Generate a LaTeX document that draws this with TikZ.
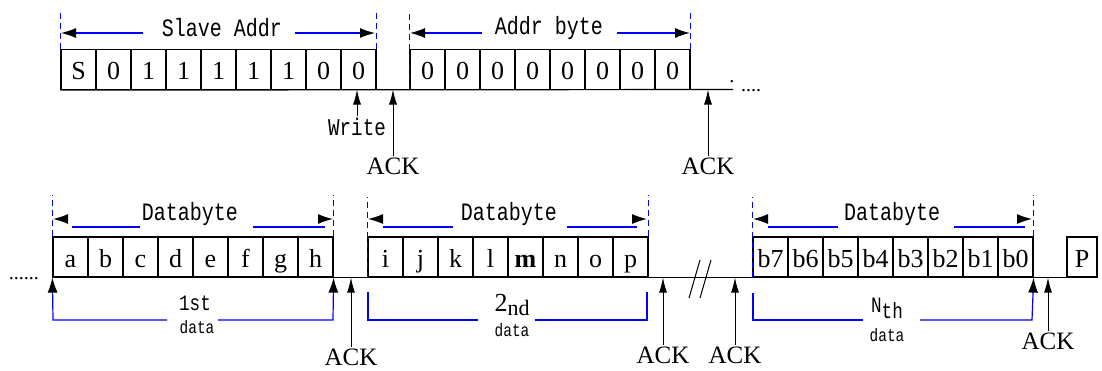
\documentclass[tikz,border=0pt]{standalone}
\usepackage{fontspec}
\setmainfont{Liberation Serif}
\newfontfamily\narrowmono[FakeStretch=0.8]{Liberation Mono}
\usetikzlibrary{arrows.meta, positioning, calc}
\tikzset{
  bitbox/.style={
    draw, line width=0.6pt, minimum width=17.5pt, minimum height=20pt,
    inner sep=0pt, text height=10pt, text depth=0pt,
    font=\fontsize{13}{13}\selectfont
  },
  sigline/.style={line width=0.6pt},
  guideline/.style={blue, dashed, dash pattern=on 3pt off 2pt, line width=0.5pt},
  spanline/.style={blue, line width=0.6pt},
  spantip/.style={-{Latex[length=7.5pt, width=5pt]}, line width=0.6pt},
  spanlabel/.style={font=\fontsize{12.5}{14}\selectfont\narrowmono, inner sep=1pt},
  smalllabel/.style={font=\fontsize{9}{10}\selectfont\narrowmono, inner sep=1pt},
  acklabel/.style={font=\fontsize{12.5}{14}\selectfont, inner sep=0.5pt},
  ackarrow/.style={-{Latex[length=7.5pt, width=4pt]}, line width=0.5pt},
}

\begin{document}
\begin{tikzpicture}[x=0.5pt, y=-0.5pt]
  \useasboundingbox (0,0) rectangle (1102,370);

  % Top row: slave address and address byte
  \foreach \b [count=\i from 0] in {S,0,1,1,1,1,1,0,0}
    \node[bitbox] (sa\i) at ({78.5+35*\i},69.5) {\b};
  \foreach \i in {0,...,7}
    \node[bitbox] (ab\i) at ({427.5+35*\i},69.5) {0};
  \draw[sigline] (sa0.south west) -- (733,89.5) coordinate (topend);
  \node[anchor=base west, inner sep=0pt, font=\fontsize{10}{10}\selectfont]
    (topdots) at (729,91) {\raisebox{0.9ex}{.}\,\,....};

  % Guides above the top row
  \draw[guideline] (sa0.north west) -- ++(0,-40);
  \draw[guideline] (sa8.north east) -- ++(0,-40);
  \draw[guideline] (ab0.south west) -- ++(0,-80);
  \draw[guideline] (ab7.north east) -- ++(0,-40);

  \node[spanlabel] (slavelbl) at (222,28) {Slave Addr};
  \draw[spanline, {Latex[length=7.5pt, width=5pt, color=black]}-] (61,33) -- (143,33);
  \draw[spanline, -{Latex[length=7.5pt, width=5pt, color=black]}] (295,33) -- (375,33);
  \node[spanlabel] (addrlbl) at (549,28) {Addr byte};
  \draw[spanline, {Latex[length=7.5pt, width=5pt, color=black]}-] (410,33) -- (482,33);
  \draw[spanline, -{Latex[length=7.5pt, width=5pt, color=black]}] (617,33) -- (690,33);

  % Write bit and acknowledges
  \node[spanlabel, font=\fontsize{12}{14}\selectfont\narrowmono] (write) at (357,127) {Write};
  \draw[ackarrow] (write.north) -- (write.north |- topend);
  \node[acklabel] (ack1) at (393,166) {ACK};
  \draw[ackarrow] (ack1.north) -- (ack1.north |- topend);
  \node[acklabel] (ack2) at (708,166) {ACK};
  \draw[ackarrow] (ack2.north) -- (ack2.north |- topend);

  % Bottom row: three data bytes and stop
  \foreach \b [count=\i from 0] in {a,b,c,d,e,f,g,h}
    \node[bitbox] (da\i) at ({70.5+35*\i},257) {\b};
  \foreach \b [count=\i from 0] in {i,j,k,l,\textbf{m},n,o,p}
    \node[bitbox] (db\i) at ({385.5+35*\i},257) {\b};
  \foreach \b [count=\i from 0] in {b7,b6,b5,b4,b3,b2,b1,b0}
    \node[bitbox] (dc\i) at ({770.5+35*\i},257) {\b};
  \node[bitbox, minimum width=15pt] (stop) at (1082,257) {P};
  \draw[sigline] (da0.south west) -- (stop.south west);
  \node[anchor=base, inner sep=0pt, font=\fontsize{10}{10}\selectfont]
    (leftdots) at (24,279) {......};
  \draw[line width=0.5pt] (689,298) -- (700,260);
  \draw[line width=0.5pt] (700,298) -- (711,260);

  % Guides above the bottom row
  \draw[guideline] (da0.north west) -- ++(0,-41);
  \draw[guideline] (da7.north east) -- ++(0,-41);
  \draw[guideline] (db0.south west) -- ++(0,-81);
  \draw[guideline] (db7.north east) -- ++(0,-41);
  \draw[guideline] (dc0.south west) -- ++(0,-81);
  \draw[guideline] (dc7.north east) -- ++(0,-41);

  % Databyte spans
  \node[spanlabel] (byte1) at (190,214) {Databyte};
  \draw[spantip] (68,219) -- (53,219);
  \draw[spantip] (318,219) -- (333,219);
  \draw[spanline] (72,227) -- (140,227) (253,227) -- (325,227);
  \node[spanlabel] (byte2) at (509,214) {Databyte};
  \draw[spantip] (383,219) -- (368,219);
  \draw[spantip] (632,219) -- (647,219);
  \draw[spanline] (383,227) -- (453,227) (567,227) -- (637,227);
  \node[spanlabel] (byte3) at (892,214) {Databyte};
  \draw[spantip] (768,219) -- (753,219);
  \draw[spantip] (1017,219) -- (1032,219);
  \draw[spanline] (768,227) -- (838,227) (954,227) -- (1025,227);

  % Data brackets
  \node[smalllabel, font=\fontsize{11}{12}\selectfont\narrowmono] (first) at (195,303) {1st};
  \node[smalllabel] (firstdata) at (197,327) {data};
  \draw[spanline, {Latex[length=7.5pt, width=5pt, color=black]}-]
    (da0.south west) -- (53,320) -- (167,320);
  \draw[spanline, {Latex[length=7.5pt, width=5pt, color=black]}-]
    (da7.south east) -- (333,320) -- (218,320);
  \node[smalllabel, font=\fontsize{13}{13}\selectfont] (second) at (512,305)
    {2\raisebox{-2pt}{\fontsize{11}{11}\selectfont nd}};
  \node[smalllabel] (seconddata) at (512,330) {data};
  \draw[spanline] (368,292) -- (368,320) -- (478,320);
  \draw[spanline] (647,292) -- (647,320) -- (535,320);
  \node[smalllabel, font=\fontsize{11}{12}\selectfont\narrowmono] (nth) at (887,308)
    {N\raisebox{-3pt}{\fontsize{11}{11}\selectfont th}};
  \node[smalllabel] (nthdata) at (887,335) {data};
  \draw[spanline] (753,293) -- (753,320) -- (863,320);
  \draw[spanline, {Latex[length=7.5pt, width=5pt, color=black]}-]
    (dc7.south east) -- (1032,320) -- (920,320);

  % Acknowledges after the data bytes
  \node[acklabel] (ack3) at (351,357) {ACK};
  \draw[ackarrow] (ack3.north) -- (ack3.north |- stop.south);
  \node[acklabel] (ack4) at (663,355) {ACK};
  \draw[ackarrow] (ack4.north) -- (ack4.north |- stop.south);
  \node[acklabel] (ack5) at (735,355) {ACK};
  \draw[ackarrow] (ack5.north) -- (ack5.north |- stop.south);
  \node[acklabel] (ack6) at (1048,341) {ACK};
  \draw[ackarrow] (ack6.north) -- (ack6.north |- stop.south);
\end{tikzpicture}
\end{document}
